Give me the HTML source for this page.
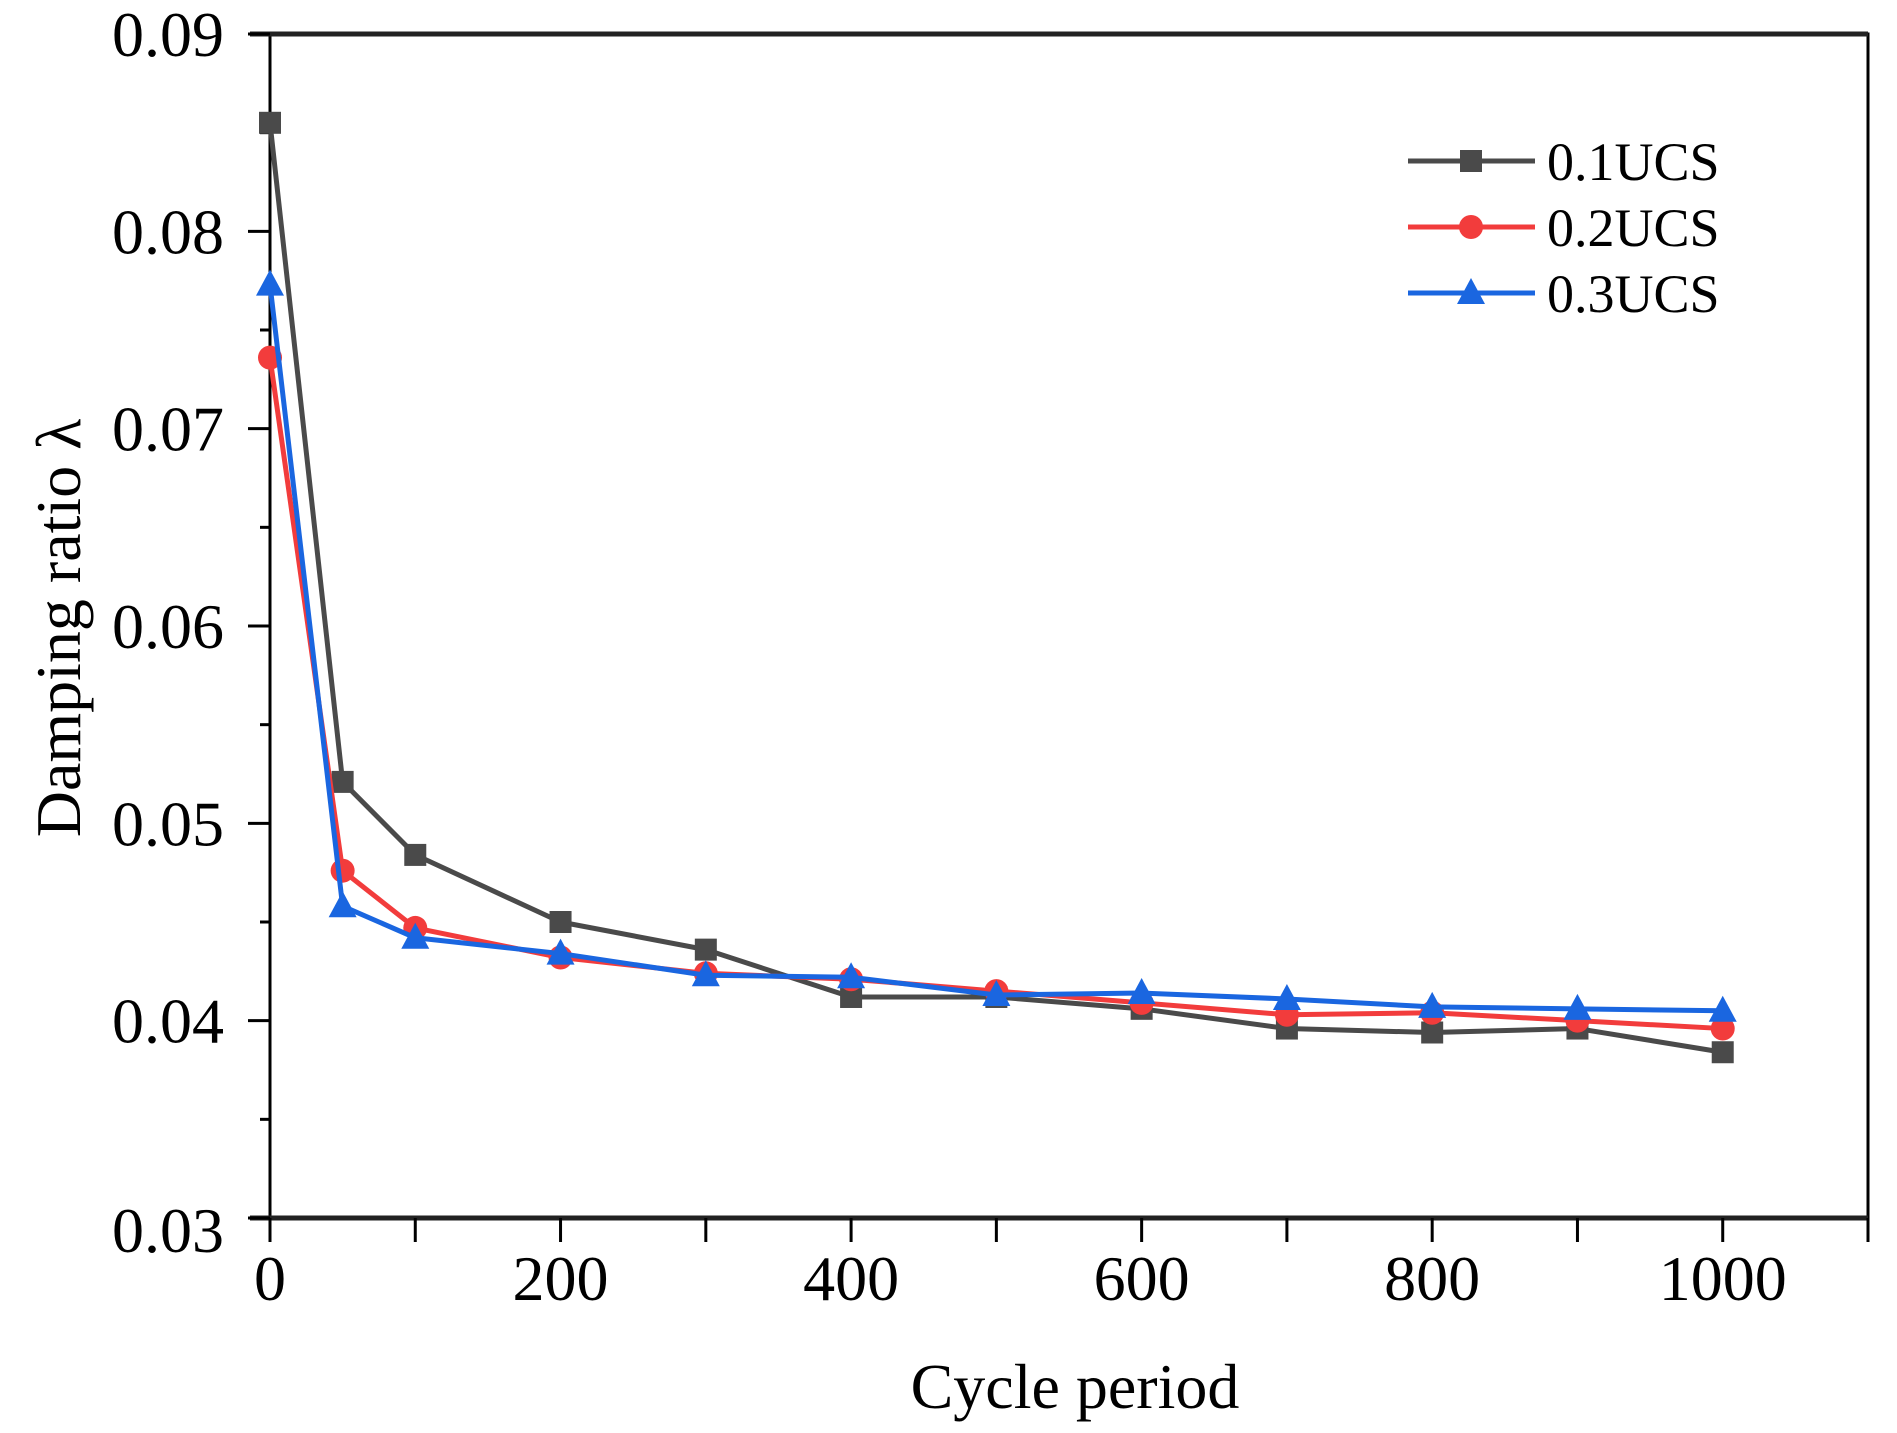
<!DOCTYPE html>
<html><head><meta charset="utf-8"><style>
html,body{margin:0;padding:0;background:#fff;}
svg{display:block;font-family:"Liberation Serif",serif;}
</style></head><body>
<svg id="chart" width="1897" height="1433" viewBox="0 0 1897 1433" xmlns="http://www.w3.org/2000/svg">
<rect width="1897" height="1433" fill="#fff"/>
<g id="plot"></g>
</svg>
<script>
const xCats = [0,50,100,200,300,400,500,600,700,800,900,1000];
const s1 = [0.0855,0.0521,0.0484,0.0450,0.0436,0.0412,0.0412,0.0406,0.0396,0.0394,0.0396,0.0384];
const s2 = [0.0736,0.0476,0.0447,0.0432,0.0424,0.0421,0.0415,0.0409,0.0403,0.0404,0.0400,0.0396];
const s3 = [0.0773,0.0458,0.0442,0.0434,0.0423,0.0422,0.0413,0.0414,0.0411,0.0407,0.0406,0.0405];
const seriesNames = ["0.1UCS","0.2UCS","0.3UCS"];
const xTicks = [0,200,400,600,800,1000];
const yTicks = [0.03,0.04,0.05,0.06,0.07,0.08,0.09];
const yTickLabels = ["0.03","0.04","0.05","0.06","0.07","0.08","0.09"];

const NS="http://www.w3.org/2000/svg";
const L=270,R=1868,T=34,B=1218;
const xMin=0,xMax=1100,yMin=0.03,yMax=0.09;
const X=v=>L+(v-xMin)/(xMax-xMin)*(R-L);
const Y=v=>B-(v-yMin)/(yMax-yMin)*(B-T);
const g=document.getElementById('plot');
function mk(tag,attrs,parent){const e=document.createElementNS(NS,tag);for(const k in attrs)e.setAttribute(k,attrs[k]);(parent||g).appendChild(e);return e;}

let e=mk('rect',{x:L,y:T,width:R-L,height:B-T,fill:'none',stroke:'#000','stroke-width':3});


e=mk('line',{x1:L-20,x2:R,y1:B,y2:B,stroke:'#222','stroke-width':5});


e=mk('line',{x1:L-20,x2:R,y1:T,y2:T,stroke:'#222','stroke-width':5});


for(let v=0;v<=1100;v+=100){
  e=mk('line',{x1:X(v),x2:X(v),y1:B,y2:B+24,stroke:'#000','stroke-width':3});
  
  
}
xTicks.forEach(v=>{
  e=mk('text',{x:X(v),y:B+82,'font-size':64,'text-anchor':'middle',fill:'#000'});
  e.textContent=v;
  
  
});
for(let i=0;i<=12;i++){
  const v=0.03+i*0.005;const major=i%2===0;
  e=mk('line',{x1:L-(major?22:10),x2:L,y1:Y(v),y2:Y(v),stroke:'#000','stroke-width':3});
  
  
}
yTicks.forEach((v,i)=>{
  e=mk('text',{x:L-46,y:Y(v)+(i===0?34:22),'font-size':64,'text-anchor':'end',fill:'#000'});
  e.textContent=yTickLabels[i];
  
  
});
e=mk('text',{x:0,y:0,'font-size':64,'text-anchor':'middle',transform:'translate(80,628) rotate(-90)'});
e.textContent='Damping ratio λ';


e=mk('text',{x:1075,y:1408,'font-size':64,'text-anchor':'middle'});
e.textContent='Cycle period';



function marker(type,cx,cy,color,parent){
  let m;
  if(type==='sq') m=mk('rect',{x:cx-11,y:cy-11,width:22,height:22,fill:color},parent);
  else if(type==='ci') m=mk('circle',{cx:cx,cy:cy,r:12,fill:color},parent);
  else m=mk('polygon',{points:`${cx},${cy-15} ${cx-14},${cy+11} ${cx+14},${cy+11}`,fill:color},parent);
  return m;
}
const all=[[s1,'#4a4a4a','sq'],[s2,'#f23c3c','ci'],[s3,'#1a66e0','tr']];
all.forEach(([data,color,type],si)=>{
  const grp=mk('g',{});
  
  
  const pts=data.map((v,i)=>X(xCats[i])+','+Y(v)).join(' ');
  mk('polyline',{points:pts,fill:'none',stroke:color,'stroke-width':5,'stroke-linejoin':'round'},grp);
  data.forEach((v,i)=>{
    const m=marker(type,X(xCats[i]),Y(v),color,grp);
    
    
  });
  const ly=161+si*66;
  const lg=mk('g',{});
  
  
  mk('line',{x1:1408,x2:1535,y1:ly,y2:ly,stroke:color,'stroke-width':5},lg);
  marker(type,1471,ly,color,lg);
  const t=mk('text',{x:1547,y:ly+19,'font-size':54,fill:'#000'},lg);
  t.textContent=seriesNames[si];
});
</script>
</body></html>
